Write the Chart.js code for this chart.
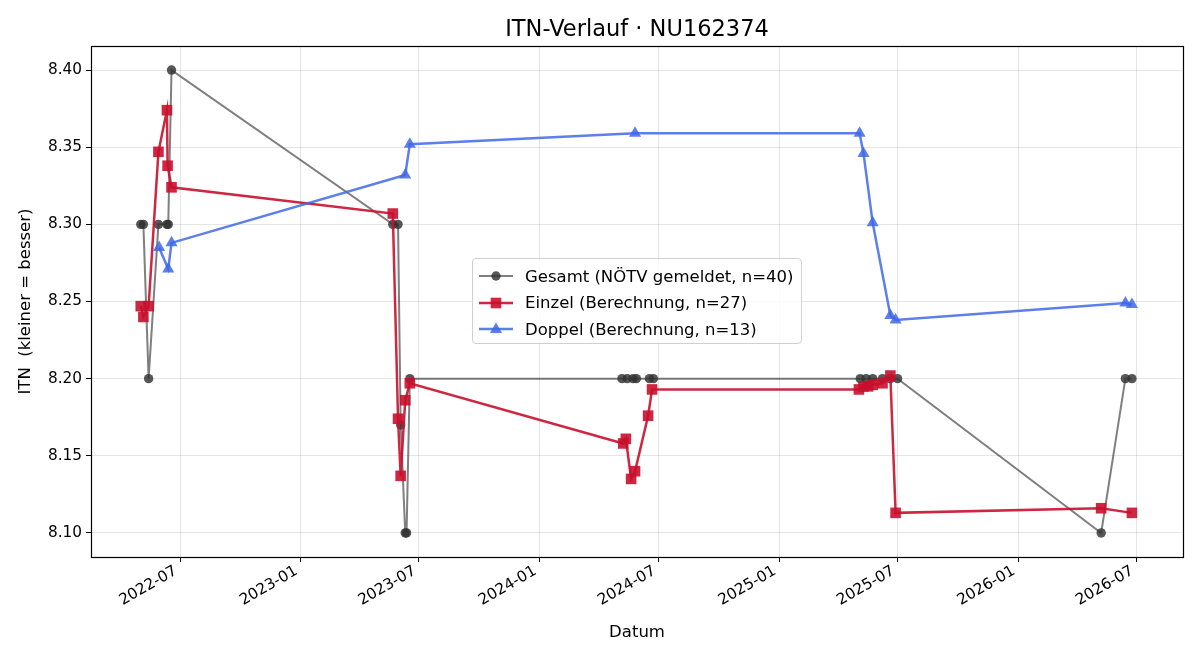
<!DOCTYPE html>
<html>
<head>
<meta charset="utf-8">
<script src="https://cdn.jsdelivr.net/npm/chart.js@4.4.1/dist/chart.umd.min.js"></script>
<style>
  html, body { margin: 0; padding: 0; background: #fff; }
  #wrap { position: relative; width: 1200px; height: 660px; }
  #title {
    position: absolute; left: 91px; width: 1092px; top: 14px; height: 28px; line-height: 28px;
    text-align: center; font-family: "DejaVu Sans"; font-size: 22.5px; color: #000;
  }
  #legend {
    position: absolute; left: 472px; top: 258px; width: 330px; height: 86px;
    box-sizing: border-box; border: 1px solid #d0d0d0; border-radius: 4px;
    background: rgba(255,255,255,0.85);
    font-family: "DejaVu Sans"; font-size: 16.5px; color: #000;
    padding: 4px 0 0 6px;
  }
  .item { display: flex; align-items: center; height: 26.5px; white-space: nowrap; }
  .item svg { margin-right: 12px; flex: none; }
</style>
</head>
<body>
<div id="wrap">
  <canvas id="itnChart" width="1200" height="660"></canvas>
  <div id="title">ITN-Verlauf · NU162374</div>
  <div id="legend"></div>
</div>
<script>
// Gesamt (NÖTV gemeldet)
let gesamtDates = ['2022-05-02','2022-05-06','2022-05-14','2022-05-29','2022-06-11','2022-06-13','2022-06-18',
  '2023-05-22','2023-05-30','2023-06-03','2023-06-10','2023-06-12','2023-06-17',
  '2024-05-06','2024-05-14','2024-05-23','2024-05-28','2024-06-17','2024-06-23',
  '2025-05-05','2025-05-14','2025-05-24','2025-06-08','2025-06-20','2025-07-01',
  '2026-05-08','2026-06-14','2026-06-24'];
let gesamtValues = [8.30,8.30,8.20,8.30,8.30,8.30,8.40,
  8.30,8.30,8.17,8.10,8.10,8.20,
  8.20,8.20,8.20,8.20,8.20,8.20,
  8.20,8.20,8.20,8.20,8.20,8.20,
  8.10,8.20,8.20];

// Einzel (Berechnung)
let einzelDates = ['2022-05-02','2022-05-06','2022-05-14','2022-05-29','2022-06-11','2022-06-12','2022-06-18',
  '2023-05-22','2023-05-30','2023-06-03','2023-06-10','2023-06-17',
  '2024-05-08','2024-05-12','2024-05-20','2024-05-26','2024-06-15','2024-06-21',
  '2025-05-03','2025-05-10','2025-05-17','2025-05-24','2025-06-08','2025-06-20','2025-06-28',
  '2026-05-08','2026-06-24'];
let einzelValues = [8.247,8.240,8.247,8.347,8.374,8.338,8.324,
  8.307,8.174,8.137,8.186,8.197,
  8.158,8.161,8.135,8.140,8.176,8.193,
  8.193,8.195,8.195,8.196,8.197,8.202,8.113,
  8.116,8.113];

// Doppel (Berechnung)
let doppelDates = ['2022-05-30','2022-06-13','2022-06-18',
  '2023-06-10','2023-06-17','2024-05-26',
  '2025-05-04','2025-05-10','2025-05-24','2025-06-20','2025-06-28',
  '2026-06-14','2026-06-24'];
let doppelValues = [8.285,8.271,8.288,
  8.332,8.352,8.359,
  8.359,8.346,8.301,8.241,8.238,
  8.249,8.248];

let xTickMonths = ['2022-07','2023-01','2023-07','2024-01','2024-07','2025-01','2025-07','2026-01','2026-07'];
let yTickValues = [8.10,8.15,8.20,8.25,8.30,8.35,8.40];

let gesamtLabel = 'Gesamt (NÖTV gemeldet, n=40)';
let einzelLabel = 'Einzel (Berechnung, n=27)';
let doppelLabel = 'Doppel (Berechnung, n=13)';

let toTime = (d) => Date.parse(d + 'T00:00:00Z');
let toPoints = (dates, values) => dates.map((d, i) => ({x: toTime(d), y: values[i]}));

let grayLine = 'rgba(0,0,0,0.5)';
let grayPoint = 'rgba(50,50,50,0.82)';
let redCol = 'rgba(200,16,46,0.9)';
let blueCol = 'rgba(65,105,230,0.85)';

Chart.defaults.font.family = 'DejaVu Sans';
Chart.defaults.color = '#000';

let frame = {
  id: 'frame',
  afterDraw(chart) {
    let a = chart.chartArea, c = chart.ctx;
    c.save();
    c.strokeStyle = '#000';
    c.lineWidth = 1.2;
    c.strokeRect(Math.round(a.left) + 0.5, Math.round(a.top) + 0.5, Math.round(a.right - a.left), Math.round(a.bottom - a.top));
    c.restore();
  }
};

let ctx = document.getElementById('itnChart').getContext('2d');
let itnChart = new Chart(ctx, {
  type: 'line',
  data: {
    datasets: [{
      label: gesamtLabel,
      data: toPoints(gesamtDates, gesamtValues),
      borderColor: grayLine,
      borderWidth: 2,
      backgroundColor: grayPoint,
      pointBackgroundColor: grayPoint,
      pointBorderColor: grayPoint,
      pointStyle: 'circle',
      pointRadius: 4.7,
      pointBorderWidth: 0,
      tension: 0,
      order: 3
    }, {
      label: einzelLabel,
      data: toPoints(einzelDates, einzelValues),
      borderColor: redCol,
      borderWidth: 2.5,
      backgroundColor: redCol,
      pointBackgroundColor: redCol,
      pointBorderColor: redCol,
      pointStyle: 'rect',
      pointRadius: 7.5,
      pointBorderWidth: 0,
      tension: 0,
      order: 2
    }, {
      label: doppelLabel,
      data: toPoints(doppelDates, doppelValues),
      borderColor: blueCol,
      borderWidth: 2.5,
      backgroundColor: blueCol,
      pointBackgroundColor: blueCol,
      pointBorderColor: blueCol,
      pointStyle: 'triangle',
      pointRadius: 7,
      pointBorderWidth: 0,
      tension: 0,
      order: 1
    }]
  },
  options: {
    responsive: false,
    animation: false,
    layout: { padding: { left: 0, right: 17, top: 46, bottom: 0 } },
    plugins: {
      legend: { display: false },
      tooltip: { enabled: false },
      title: { display: false }
    },
    scales: {
      x: {
        type: 'linear',
        min: toTime('2022-02-15'),
        max: toTime('2026-09-10'),
        afterBuildTicks: (scale) => {
          scale.ticks = xTickMonths.map(m => ({ value: toTime(m + '-01') }));
        },
        afterFit: (scale) => { scale.height = 103; },
        ticks: {
          autoSkip: false,
          minRotation: 30,
          maxRotation: 30,
          padding: 0,
          labelOffset: -4,
          font: { size: 15.3 },
          color: '#000',
          callback: (v) => new Date(v).toISOString().slice(0, 7)
        },
        grid: { color: 'rgba(0,0,0,0.1)', tickColor: '#000', tickLength: 5, drawTicks: true },
        border: { display: false },
        title: {
          display: true,
          text: 'Datum',
          font: { size: 16.5 },
          color: '#000',
          padding: { top: 0, bottom: 17 }
        }
      },
      y: {
        min: 8.0844,
        max: 8.4156,
        afterBuildTicks: (scale) => {
          scale.ticks = yTickValues.map(v => ({ value: v }));
        },
        afterFit: (scale) => { scale.width = 91; },
        ticks: {
          padding: 4,
          font: { size: 15.3 },
          color: '#000',
          callback: (v) => Number(v).toFixed(2)
        },
        grid: { color: 'rgba(0,0,0,0.1)', tickColor: '#000', tickLength: 5, drawTicks: true },
        border: { display: false },
        title: {
          display: true,
          text: 'ITN  (kleiner = besser)',
          font: { size: 16.5 },
          color: '#000',
          padding: { top: 16, bottom: 0 }
        }
      }
    }
  },
  plugins: [frame]
});

// legend drawn as html inside the plot area
let legendItems = [
  { label: gesamtLabel, line: grayLine, fill: grayPoint, marker: 'circle', lw: 2 },
  { label: einzelLabel, line: redCol, fill: redCol, marker: 'square', lw: 2.5 },
  { label: doppelLabel, line: blueCol, fill: blueCol, marker: 'triangle', lw: 2.5 }
];
let legendBox = document.getElementById('legend');
legendItems.forEach(it => {
  let m = '';
  if (it.marker === 'circle') m = `<circle cx="17" cy="13" r="4.7" fill="${it.fill}"/>`;
  if (it.marker === 'square') m = `<rect x="11.7" y="7.7" width="10.6" height="10.6" fill="${it.fill}"/>`;
  if (it.marker === 'triangle') m = `<polygon points="17,6.5 23,17 11,17" fill="${it.fill}"/>`;
  let row = document.createElement('div');
  row.className = 'item';
  row.innerHTML = `<svg width="34" height="26"><line x1="0" y1="13" x2="34" y2="13" stroke="${it.line}" stroke-width="${it.lw}"/>${m}</svg><span>${it.label}</span>`;
  legendBox.appendChild(row);
});
</script>
</body>
</html>
